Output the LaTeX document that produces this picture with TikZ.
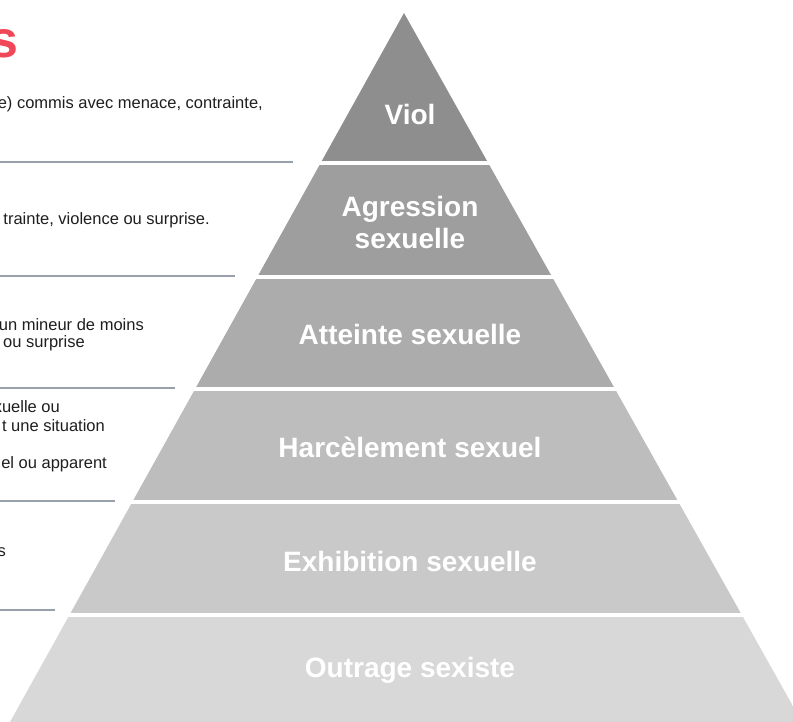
\documentclass[tikz,border=0pt]{standalone}
\usepackage{fontspec}
\setmainfont{Liberation Sans}
\usepackage{xcolor}
\usepackage{tikz}
\usetikzlibrary{positioning}

\definecolor{bandA}{RGB}{142,142,142}
\definecolor{bandB}{RGB}{158,158,158}
\definecolor{bandC}{RGB}{172,172,172}
\definecolor{bandD}{RGB}{189,189,189}
\definecolor{bandE}{RGB}{201,201,201}
\definecolor{bandF}{RGB}{216,216,216}
\definecolor{titlered}{RGB}{240,72,88}
\definecolor{notetext}{RGB}{30,30,30}
\definecolor{rulecol}{RGB}{152,160,172}

\begin{document}
\begin{tikzpicture}[x=1pt,y=-1pt]
			\tikzstyle{level}=[text=white, align=center, font=\fontsize{28}{32}\selectfont\bfseries]
			\tikzstyle{note}=[anchor=base east, inner sep=0pt, text=notetext, font=\fontsize{16.5}{18}\selectfont]
			\tikzstyle{rule}=[draw=rulecol, line width=2pt]
			
			\useasboundingbox (0,0) rectangle (793,721);
			\clip (0,0) rectangle (793,721);
			
			% pyramid, cut into bands
			\begin{scope}
			\clip (404,13) -- (812,740) -- (0,740) -- cycle;
			\fill[bandA] (0,0)   rectangle (793,161);
			\fill[bandB] (0,165) rectangle (793,275);
			\fill[bandC] (0,279) rectangle (793,387);
			\fill[bandD] (0,391) rectangle (793,500);
			\fill[bandE] (0,504) rectangle (793,613);
			\fill[bandF] (0,617) rectangle (793,740);
			\end{scope}
			
			\node[level] (viol)        at (410,114) {Viol};
			\node[level] (agression)   at (410,222) {Agression\\sexuelle};
			\node[level] (atteinte)    at (410,334) {Atteinte sexuelle};
			\node[level] (harcelement) at (410,447) {Harcèlement sexuel};
			\node[level] (exhibition)  at (410,561) {Exhibition sexuelle};
			\node[level] (outrage)     at (410,670) {Outrage sexiste};
			
			% left column
			\node[anchor=base east, inner sep=0pt, text=titlered, font=\fontsize{52}{52}\selectfont\bfseries] (title) at (19,57) {s};
			
			\node[note] (violnote)  at (263,108) {e) commis avec menace, contrainte,};
			\node[note] (agrnote)   at (210,224) {trainte, violence ou surprise.};
			\node[note] (attnoteA)  at (144,330) {un mineur de moins};
			\node[note] (attnoteB)  at (85,347)  {ou surprise};
			\node[note] (harnoteA)  at (60,412)  {xuelle ou};
			\node[note] (harnoteB)  at (105,431) {t une situation};
			\node[note] (harnoteC)  at (107,468) {el ou apparent};
			\node[note] (exhnote)   at (6,556)   {s};
			
			\draw[rule] (0,162) -- (293,162);
			\draw[rule] (0,276) -- (235,276);
			\draw[rule] (0,388) -- (175,388);
			\draw[rule] (0,501) -- (115,501);
			\draw[rule] (0,610) -- (55,610);
			\end{tikzpicture}
\end{document}
